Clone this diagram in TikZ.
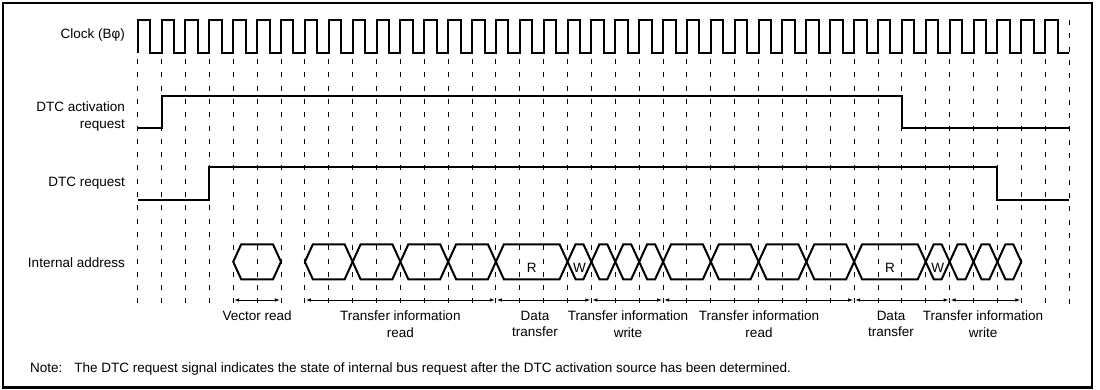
\documentclass[tikz,border=0pt]{standalone}
\usepackage{fontspec}
\setmainfont{Liberation Sans}
\usetikzlibrary{arrows.meta}
\newcommand\gx[1]{137.7+23.88*(#1)}
\begin{document}
\begin{tikzpicture}[x=1pt,y=-1pt, font=\fontsize{13.5}{16.5}\selectfont,
  sig/.style={line width=2pt, line join=miter},
  gridline/.style={line width=0.9pt, dash pattern=on 5pt off 8.3pt},
  span/.style={line width=0.9pt, {Latex[length=5pt,width=3.6pt]}-{Latex[length=5pt,width=3.6pt]}, shorten <=1pt, shorten >=1pt},
  lbl/.style={anchor=east, inner sep=0pt, align=right},
  spancap/.style={anchor=north, inner sep=0pt, align=center},
  hexlbl/.style={inner sep=0pt}]
\useasboundingbox (0,0) rectangle (1100,389);
\draw[line width=2.2pt] (2.8,2.6) rectangle (1091.6,387.4);

% dashed clock grid
\foreach \i in {0,...,38} \draw[gridline] ({\gx{\i}},59) -- ({\gx{\i}},305);
\draw[gridline] ({\gx{39}},20) -- ({\gx{39}},305);

% clock
\draw[sig] ({\gx{0}},53) \foreach \i in {0,...,38} { -- ({\gx{\i}},20) -- ({\gx{\i}+12.5},20) -- ({\gx{\i}+12.5},53) -- ({\gx{(\i+1)}},53) };

% DTC activation request
\draw[sig] ({\gx{0}},127.7) -- ({\gx{1}},127.7) -- ({\gx{1}},96) -- ({\gx{32}},96) -- ({\gx{32}},127.7) -- ({\gx{39}},127.7);

% DTC request
\draw[sig] ({\gx{0}},200) -- ({\gx{3}},200) -- ({\gx{3}},166.7) -- ({\gx{36}},166.7) -- ({\gx{36}},200) -- ({\gx{39}},200);

% internal address hexagons
\foreach \a/\b in {4/6,7/9,9/11,11/13,13/15,15/18,18/19,19/20,20/21,21/22,22/24,24/26,26/28,28/30,30/33,33/34,34/35,35/36,36/37}
  \draw[sig] ({\gx{\a}},261.8) -- ({\gx{\a}+8},244.3) -- ({\gx{\b}-8},244.3) -- ({\gx{\b}},261.8) -- ({\gx{\b}-8},279.3) -- ({\gx{\a}+8},279.3) -- cycle;
\node[hexlbl] (r1) at ({\gx{16.5}},268) {R};
\node[hexlbl] (w1) at ({\gx{18.5}},268) {W};
\node[hexlbl] (r2) at ({\gx{31.5}},268) {R};
\node[hexlbl] (w2) at ({\gx{33.5}},268) {W};

% span arrows
\foreach \a/\b in {4/6,7/15,15/19,19/22,22/30,30/34,34/37}
  \draw[span] ({\gx{\a}},300) -- ({\gx{\b}},300);

% span captions
\node[spancap] (c1) at ({\gx{5}},311) {Vector read};
\node[spancap] (c2) at ({\gx{11}},311) {Transfer information\\read};
\node[spancap] (c3) at (535,311) {Data\\transfer};
\node[spancap] (c4) at (628,311) {Transfer information\\write};
\node[spancap] (c5) at (759,311) {Transfer information\\read};
\node[spancap] (c6) at (891,311) {Data\\transfer};
\node[spancap] (c7) at (983,311) {Transfer information\\write};

% signal names
\node[lbl] (lclk) at (125,35) {Clock (Bφ)};
\node[lbl] (lact) at (125,116.5) {DTC activation\\request};
\node[lbl] (lreq) at (125,183) {DTC request};
\node[lbl] (ladr) at (125,263) {Internal address};

% note
\node[anchor=west, inner sep=0pt] (note) at (30,369) {Note:\hspace{7pt} The DTC request signal indicates the state of internal bus request after the DTC activation source has been determined.};
\end{tikzpicture}
\end{document}
